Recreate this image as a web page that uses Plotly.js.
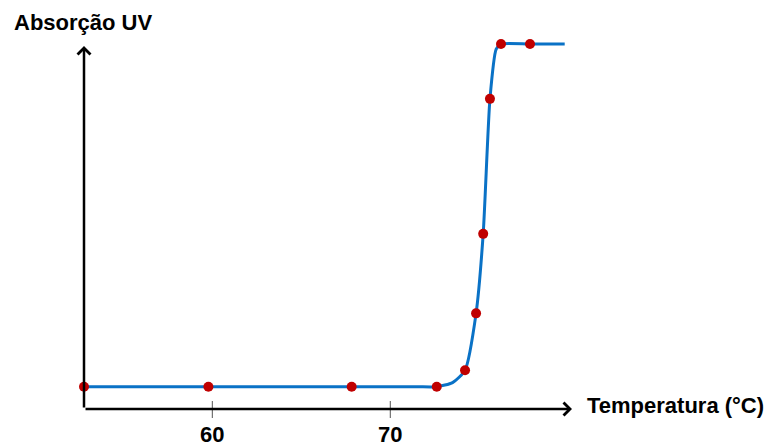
<!DOCTYPE html>
<html>
<head>
<meta charset="utf-8">
<script src="https://cdn.plot.ly/plotly-3.0.1.min.js"></script>
<style>html,body{margin:0;padding:0;background:#fff;}#chart{width:768px;height:443px;}</style>
</head>
<body>
<div id="chart"></div>
<script>
// Measured points (temperature °C, relative UV absorbance)
const tempPts = [52.79, 59.78, 67.83, 72.61, 74.2, 74.82, 75.22, 75.60, 76.22, 77.85];
const absPts  = [0, 0, 0, 0, 0.048, 0.214, 0.446, 0.840, 1.0, 1.0];
// Fitted curve
const curveT = [52.79, 59.78, 67.83, 71.5, 72.61, 73.5, 74.2, 74.82, 75.22, 75.60, 75.95, 76.22, 77.85, 79.8];
const curveA = [0, 0, 0, 0, 0, 0.012, 0.048, 0.214, 0.446, 0.840, 0.985, 1.0, 1.0, 1.0];
const tickVals = [60, 70];
const tickText = ['60', '70'];
const xTitle = 'Temperatura (°C)';
const yTitle = 'Absorção UV';

const xRange = [52.79, 80.21];
const yRange = [-0.0651, 1.0117];
const yTip = 0.994;

const fontFam = '"Liberation Sans", Arial, sans-serif';

const traces = [
  {x: curveT, y: curveA, mode: 'lines', line: {color: '#0A72C6', width: 3, shape: 'spline', smoothing: 0.6}, hoverinfo: 'skip', cliponaxis: false},
  {x: tempPts, y: absPts, mode: 'markers', marker: {color: '#C00000', size: 10}, cliponaxis: false}
];

const shapes = tickVals.map(v => ({
  type: 'line', xref: 'x', yref: 'paper', ysizemode: 'pixel', yanchor: 0,
  x0: v, x1: v, y0: -9, y1: 8, line: {color: '#555', width: 1}
}));

const annotations = [
  {xref: 'x', yref: 'y', axref: 'x', ayref: 'y', x: xRange[0], y: yTip, ax: xRange[0], ay: yRange[0],
   text: '', showarrow: true, arrowhead: 4, arrowsize: 1, arrowwidth: 2.5, arrowcolor: '#000', standoff: 0},
  {xref: 'x', yref: 'y', axref: 'x', ayref: 'y', x: xRange[1], y: yRange[0], ax: xRange[0], ay: yRange[0],
   text: '', showarrow: true, arrowhead: 4, arrowsize: 1, arrowwidth: 2.5, arrowcolor: '#000', standoff: 0},
  {xref: 'paper', yref: 'paper', x: 1.0266, y: 0.0108, xanchor: 'left', yanchor: 'middle', showarrow: false,
   text: xTitle, font: {family: fontFam, size: 22, color: '#000', weight: 'bold'}},
  {xref: 'paper', yref: 'paper', x: -0.1475, y: 1.048, xanchor: 'left', yanchor: 'middle', showarrow: false,
   text: yTitle, font: {family: fontFam, size: 22, color: '#000', weight: 'bold'}}
];

const layout = {
  width: 768, height: 443,
  margin: {l: 84, r: 196, t: 40, b: 34},
  paper_bgcolor: '#fff', plot_bgcolor: '#fff',
  showlegend: false,
  xaxis: {range: xRange, showgrid: false, zeroline: false, showline: false, ticks: '',
          tickvals: tickVals, ticktext: tickText, ticklabelstandoff: 10,
          tickfont: {family: fontFam, size: 22, color: '#000', weight: 'bold'}},
  yaxis: {range: yRange, showgrid: false, zeroline: false, showline: false, ticks: '', showticklabels: false},
  shapes: shapes,
  annotations: annotations
};

Plotly.newPlot('chart', traces, layout, {displayModeBar: false, staticPlot: true});
</script>
</body>
</html>
